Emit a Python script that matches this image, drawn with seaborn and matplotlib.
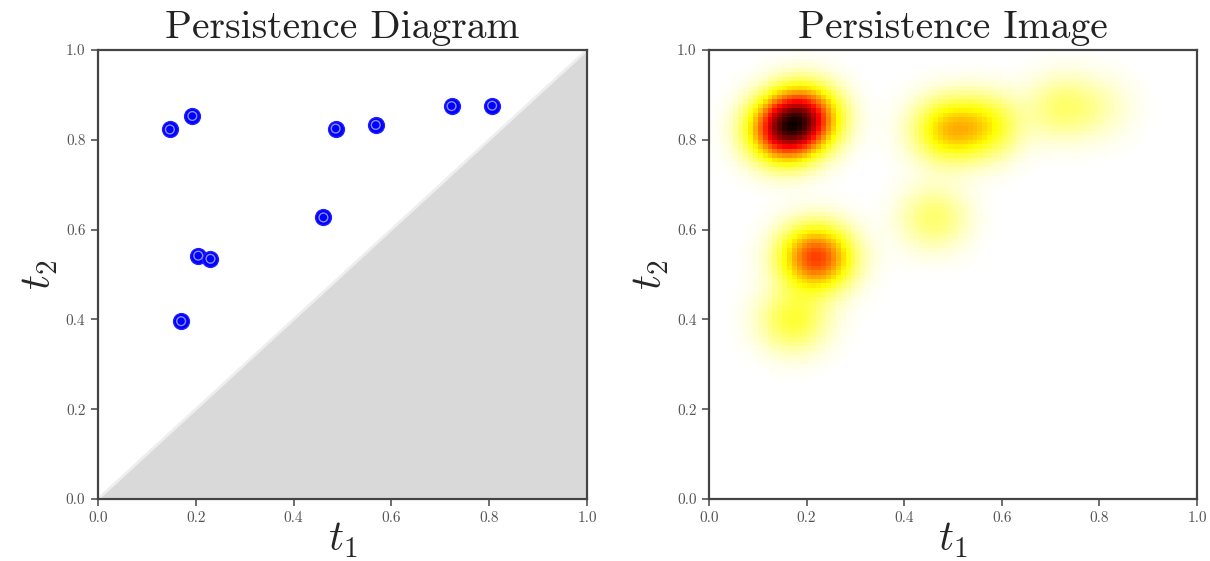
import numpy as np
import pandas as pd
import matplotlib
matplotlib.use("Agg")
import matplotlib.pyplot as plt
import seaborn as sns

# ---- data ----
birth = [0.147, 0.193, 0.205, 0.230, 0.170, 0.461, 0.486, 0.568, 0.723, 0.806]
death = [0.823, 0.853, 0.542, 0.535, 0.396, 0.627, 0.825, 0.833, 0.875, 0.876]
tick_vals = [0.0, 0.2, 0.4, 0.6, 0.8, 1.0]
titles = ["Persistence Diagram", "Persistence Image"]
sigma = 0.05
resolution = 100

sns.set_style("ticks")
plt.rcParams["font.family"] = ["cmr10", "DejaVu Serif"]
plt.rcParams["mathtext.fontset"] = "cm"
plt.rcParams["axes.unicode_minus"] = False
plt.rcParams["axes.formatter.use_mathtext"] = True

df = pd.DataFrame({"birth": birth, "death": death})

fig = plt.figure(figsize=(12.1, 5.61), dpi=100)
ax1 = fig.add_axes([98 / 1210, 62 / 561, 489 / 1210, 449 / 561])
ax2 = fig.add_axes([709 / 1210, 62 / 561, 488 / 1210, 449 / 561])

# ---- left: persistence diagram ----
ax1.fill([0, 1, 1], [0, 1, 0], facecolor="#d9d9d9", edgecolor="#eeeeee",
         lw=2.0, zorder=1)
sns.scatterplot(data=df, x="birth", y="death", ax=ax1, s=130, color="blue",
                edgecolor="#2020ff", linewidth=1.0, zorder=3, legend=False)
ax1.scatter(df["birth"], df["death"], s=40, facecolor="none",
            edgecolor="#8c8cff", linewidth=1.0, zorder=4)

# ---- right: persistence image ----
g = np.linspace(0, 1, resolution)
X, Y = np.meshgrid(g, g)
img = np.zeros_like(X)
for b, d in zip(birth, death):
    w = d - b
    img += w * np.exp(-((X - b) ** 2 + (Y - d) ** 2) / (2 * sigma ** 2))
ax2.imshow(img, cmap="hot_r", origin="lower", extent=[0, 1, 0, 1],
           aspect="auto", interpolation="nearest", vmin=0, vmax=img.max())

for ax, title in zip([ax1, ax2], titles):
    ax.set_xlim(0, 1)
    ax.set_ylim(0, 1)
    ax.set_xticks(tick_vals)
    ax.set_yticks(tick_vals)
    ax.set_xticklabels([f"{v:.1f}" for v in tick_vals])
    ax.set_yticklabels([f"{v:.1f}" for v in tick_vals])
    ax.tick_params(labelsize=11, colors="#555555", length=5, width=1.2,
                   direction="out", pad=4)
    for sp in ax.spines.values():
        sp.set_visible(True)
        sp.set_color("#444444")
        sp.set_linewidth(1.6)
        sp.set_zorder(5)
    ax.set_title(title, fontsize=28.5, pad=9, color="#222222")
    ax.set_xlabel(r"$t_1$", fontsize=30, labelpad=-3)
    ax.set_ylabel(r"$t_2$", fontsize=30, labelpad=4)

fig.savefig("out.png", dpi=100)
